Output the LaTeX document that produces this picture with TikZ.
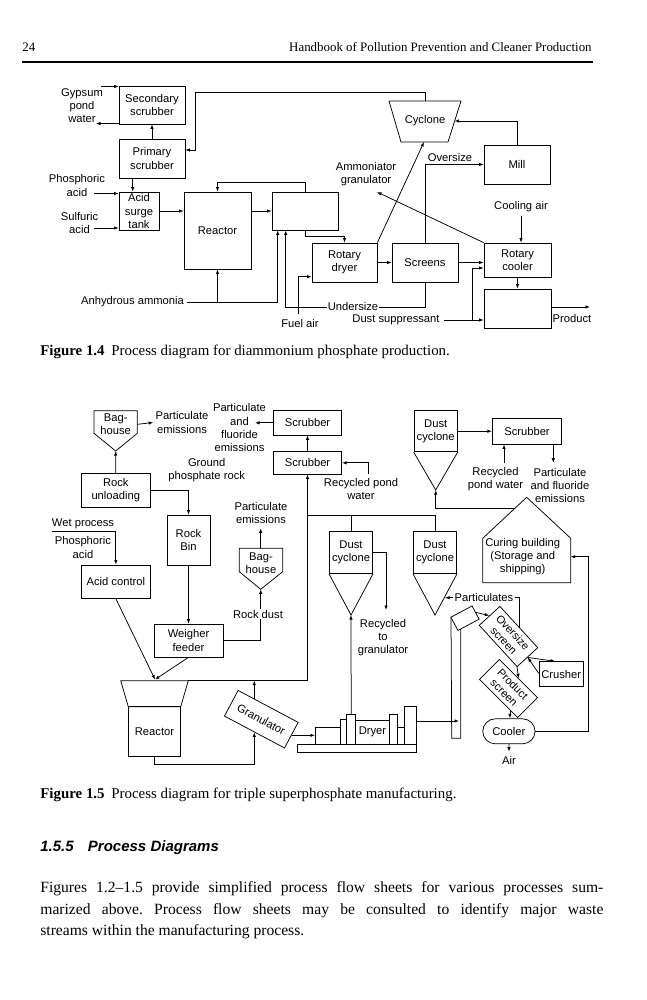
\documentclass[tikz,border=0pt]{standalone}
\usepackage{fontspec}
\setmainfont{Liberation Serif}
\newfontfamily\dg{Liberation Sans}
\newcommand\dgf{\dg\fontsize{11.2}{13.3}\selectfont}
\newcommand\dgr{\dg\fontsize{11}{12.2}\selectfont}
\usetikzlibrary{arrows.meta,calc}
\frenchspacing
\begin{document}
\begin{tikzpicture}[x=1pt,y=-1pt,line width=0.75pt,
  box/.style={draw,inner sep=0pt,align=center,font=\dgf},
  lbl/.style={inner sep=0pt,align=center,font=\dgf},
  arr/.style={-{Latex[length=4.5pt,width=3.4pt]}},
  txt/.style={inner sep=0pt}]
\useasboundingbox (0,0) rectangle (646,1000);
% ---------------- header
\node[txt,anchor=base west,font=\fontsize{12.9}{15}\selectfont] (pg) at (22,52) {24};
\node[txt,anchor=base east,font=\fontsize{12.9}{15}\selectfont] (hd) at (592,52) {Handbook of Pollution Prevention and Cleaner Production};
\draw[line width=1.2pt] (pg.west |- 0,62) -- (593,62);
% ================= FIGURE 1.4
\node[box,minimum width=66pt,minimum height=38pt] (sec) at (152,105) {Secondary\\scrubber};
\node[box,minimum width=66pt,minimum height=39pt] (pri) at (152,158.5) {Primary\\scrubber};
\node[box,minimum width=40pt,minimum height=38pt] (ast) at (139,211) {Acid\\surge\\tank};
\node[box,minimum width=67pt,minimum height=77pt] (rea) at (217.5,230.5) {Reactor};
\node[box,minimum width=66pt,minimum height=38pt] (agr) at (305,211) {};
\node[box,minimum width=65pt,minimum height=39pt] (rdr) at (344.5,262.5) {Rotary\\dryer};
\node[box,minimum width=66pt,minimum height=39pt] (scr) at (425,262.5) {Screens};
\node[box,minimum width=67pt,minimum height=34pt] (rco) at (517.5,260) {Rotary\\cooler};
\node[box,minimum width=67pt,minimum height=39pt] (pbx) at (517.5,308.5) {};
\node[box,minimum width=66pt,minimum height=39pt] (mil) at (517,164.5) {Mill};
\draw (389,101) -- (461,101) -- (448,142) -- (401,142) -- cycle;
\node[lbl] (cyc) at (425,121) {Cyclone};
\coordinate (cyctop) at (425,101);
\coordinate (cycbot) at (424,142);
\coordinate (cycr) at (454.5,121);
% labels
\node[lbl] (gyp) at (82,105.5) {Gypsum\\pond\\water};
\node[lbl] (pho) at (77,185.5) {Phosphoric\\acid};
\node[lbl] (sul) at (79.5,222.7) {Sulfuric\\acid};
\node[lbl] (amg) at (366,174) {Ammoniator\\granulator};
\node[lbl] (ovs) at (450,157) {Oversize};
\node[lbl] (cla) at (521,207) {Cooling air};
\node[lbl] (anh) at (132.5,302) {Anhydrous ammonia};
\node[lbl] (fua) at (300,323) {Fuel air};
\node[lbl] (dsu) at (396,320) {Dust suppressant};
\node[lbl] (prd) at (572,318) {Product};
% connectors
\coordinate (gyin) at (101,86.5);
\draw[arr] (gyin) -- (gyin -| sec.west);
\coordinate (gyout) at (96,123.5);
\draw[arr] (gyout -| sec.west) -- (gyout);
\draw[arr] (pri) -- (sec);
\draw[arr] (cyctop) -- (425,92) -- (195,92) -- (195,150) -- (pri.east |- 0,150);
\draw[arr] (pri.south -| 132.7,0) -- (ast.north -| 132.7,0);
\coordinate (phin) at (94,193.5);
\draw[arr] (phin) -- (phin -| ast.west);
\coordinate (suin) at (94,228);
\draw[arr] (suin) -- (suin -| ast.west);
\draw[arr] (ast.east) -- (ast.east -| rea.west);
\draw[arr] (agr.west -| rea.east) -- (agr.west);
\draw[arr] (agr.north) -- ++(0,-9) -| (rea.north);
\draw[arr] (agr.south) -- ++(0,6.5) -| (rdr.north);
\draw[arr] (rdr.east) -- (scr.west);
\draw[arr] (scr.east) -- (scr.east -| rco.west);
\draw[arr] (rco.south) -- (pbx.north);
\coordinate (pout) at (590,307);
\draw[arr] (pout -| pbx.east) -- (pout);
\draw[arr] ([xshift=4pt]dsu.east) -- (dsu.east -| pbx.west);
\coordinate (dsj) at (472,320);
\draw[arr] (dsj) -- (472,268) -- (rco.west |- 0,268);
\draw[arr] ([yshift=-3pt]cla.south) -- (cla.south |- rco.north);
\draw[arr] (mil.north) |- (cycr);
\draw[arr] (scr.north) |- (mil.west);
\draw[arr] (rdr.north east) -- (cycbot);
\coordinate (amgp) at (377,192);
\draw[arr] (rco.north west) -- (amgp);
\draw[arr] (scr.south) -- ++(0,24.5) -| (agr.south -| 285.7,0);
\node[lbl,fill=white,inner sep=1pt] (und) at (353,306.5) {Undersize};
\draw[arr] ([xshift=3pt]anh.east) -- (277.7,302) -- (agr.south -| 277.7,0);
\draw[arr] (217.5,302) -- (rea.south);
\draw[arr] (298.3,314) -- (298.3,276.7) -- (rdr.west |- 0,276.7);
% caption
\node[txt,anchor=west,font=\fontsize{14.9}{17}\selectfont] (cap1) at (40,352) {\textbf{Figure 1.4}\hspace{0.45em}Process diagram for diammonium phosphate production.};
% ================= FIGURE 1.5
% baghouse 1
\draw (94,410.7) -- (137.3,410.7) -- (137.3,433.3) -- (115.7,451) -- (94,433.3) -- cycle;
\node[lbl] (bh1) at (115.7,424.3) {Bag-\\house};
\coordinate (bh1tip) at (115.7,451);
\node[lbl] (pe1) at (182,422.5) {Particulate\\emissions};
\draw[arr] (bh1 -| 137.3,0) -- ([xshift=-2pt]pe1.west);
\node[box,minimum width=68.3pt,minimum height=34pt] (ru) at (115.8,490.3) {Rock\\unloading};
\draw[arr] (ru.north) -- (bh1tip);
\node[lbl] (gpr) at (206.7,470) {Ground\\phosphate rock};
\node[box,minimum width=43pt,minimum height=50pt] (rb) at (188.5,540) {Rock\\Bin};
\draw[arr] (ru.east) -| (rb.north);
\node[box,minimum width=69pt,minimum height=33pt] (wf) at (188.5,640.5) {Weigher\\feeder};
\draw[arr] (rb) -- (wf);
% baghouse 2
\draw (239.3,548.3) -- (282.7,548.3) -- (282.7,571.7) -- (260.7,589.3) -- (239.3,571.7) -- cycle;
\node[lbl] (bh2) at (261,563.5) {Bag-\\house};
\coordinate (bh2tip) at (260.7,589.3);
\coordinate (bh2top) at (260.7,548.3);
\draw[arr] (wf.east) -| (bh2tip);
\node[lbl,fill=white,inner sep=1pt] (rdu) at (258,614) {Rock dust};
\node[lbl] (pe2) at (261,513.3) {Particulate\\emissions};
\draw[arr] (bh2top) -- (260.7,528.3);
% acid control
\node[box,minimum width=68.3pt,minimum height=33.3pt] (ac) at (115.85,581.65) {Acid control};
\node[lbl] (wet) at (83,524) {Wet process};
\node[lbl] (wpa) at (83,547.5) {Phosphoric\\acid};
\coordinate (wetl) at (51.7,531.7);
\draw[arr] (wetl) -| (ac.north);
% reactor
\draw (120.7,680.7) -- (188.3,680.7) -- (180.7,706.7) -- (128.3,706.7) -- cycle;
\node[box,minimum width=52.4pt,minimum height=50pt] (br) at (154.5,731.7) {Reactor};
\coordinate (hop) at (155,679.5);
\coordinate (hopr) at (188.3,680.7);
\draw[arr] (ac.south) -- (hop);
\draw[arr] (wf.south) -- (hop);
% scrubbers
\node[box,minimum width=68.4pt,minimum height=24.3pt] (s1) at (307.5,422.85) {Scrubber};
\node[box,minimum width=68.4pt,minimum height=22.3pt] (s2) at (307.5,462.85) {Scrubber};
\draw[arr] (s2) -- (s1);
\node[lbl] (pfe1) at (239.5,427.9) {Particulate\\and\\fluoride\\emissions};
\coordinate (pfe1a) at (255,422.85);
\draw[arr] (s1.west) -- (pfe1a);
\node[lbl] (rpw1) at (361,489.3) {Recycled pond\\water};
\draw[arr] (368,474) |- (s2.east);
\draw[arr] (hopr) -- (307.5,680.7) -- (s2.south);
% dust cyclones
\node[box,minimum width=43.4pt,minimum height=41.6pt] (dc1) at (351,552.5) {Dust\\cyclone};
\draw (dc1.south west) -- (351,615) -- (dc1.south east);
\coordinate (dc1tip) at (351,615);
\node[box,minimum width=43.4pt,minimum height=41.6pt] (dc2) at (435,552.5) {Dust\\cyclone};
\draw (dc2.south west) -- (435,615) -- (dc2.south east);
\node[box,minimum width=43.3pt,minimum height=41pt] (dc0) at (435.7,431.2) {Dust\\cyclone};
\draw (dc0.south west) -- (435.7,490) -- (dc0.south east);
\coordinate (dc0tip) at (435.7,490);
\draw (307.5,515) -- (435,515);
\draw (dc1.north) -- (dc1.north |- 0,515);
\draw (dc2.north) -- (dc2.north |- 0,515);
\node[box,minimum width=69.4pt,minimum height=25.7pt] (s3) at (527,431.2) {Scrubber};
\draw[arr] (dc0.east) -- (s3.west);
\node[lbl] (rpw2) at (495.5,479) {Recycled\\pond water};
\draw[arr] (504,463) -- (s3.south -| 504,0);
\node[lbl] (pfe2) at (560,485.3) {Particulate\\and fluoride\\emissions};
\draw[arr] (s3.south -| 553.3,0) -- (553.3,462.7);
% curing building
\draw (482.7,582.7) -- (482.7,538.3) -- (526.7,497.3) -- (570.7,538.3) -- (570.7,582.7) -- cycle;
\node[lbl] (cur) at (522.7,556.7) {Curing building\\(Storage and\\shipping)};
\coordinate (roofp) at (514.9,508.3);
\coordinate (curr) at (570.7,556.7);
\draw[arr] (roofp) -| (dc0tip);
\node[lbl] (rtg) at (383,637.7) {Recycled\\to\\granulator};
\draw[arr] (dc1.east) -| (386,610);
% dryer
\draw (297.3,744) rectangle (416.7,752.7);
\draw (315,727.3) rectangle (340,744);
\draw (340,719.3) rectangle (346.7,744);
\draw (346.7,714) rectangle (355.7,744);
\node[box,minimum width=33.6pt,minimum height=24pt] (dry) at (372.5,732) {Dryer};
\draw (389.3,714) rectangle (397.3,744);
\draw (397.3,727.3) rectangle (404,744);
\draw (404,706.7) rectangle (416.7,744);
\coordinate (drystack) at (351.2,714);
\coordinate (dryout) at (416.7,721);
\draw[arr] (drystack) -- (dc1tip);
% granulator
\node[box,rotate=-28,minimum width=68pt,minimum height=29pt] (bgr) at (261.3,719.2) {Granulator};
\draw[arr] (bgr.east) -- (bgr.east -| 315,0);
\draw[arr] (br.south) -- ++(0,7.3) -| (bgr.south);
\coordinate (bgrtop) at (254.3,699);
\draw[arr] (bgrtop) -- (254.3,680.7);
% elevator
\node[draw,rotate=28,minimum width=24pt,minimum height=15pt,inner sep=0pt] (elh) at (465,618.2) {};
\draw (451,617.3) -- (451.7,738.3) -- (460.7,738.3) -- (460.7,629);
\draw[arr] (dryout) -- (459,721);
% screens
\node[box,font=\dgr,rotate=-47.5,minimum width=56pt,minimum height=28pt] (oss) at (508.5,636.5) {Oversize\\screen};
\draw[arr] (elh.east) -- (oss.west);
\node[lbl] (pts) at (484,597.7) {Particulates};
\draw (oss.north) |- ([xshift=1pt]pts.east);
\draw[arr] ([xshift=-1pt]pts.west) -- (445,597.7);
\node[box,minimum width=44.3pt,minimum height=25pt] (cru) at (561.2,674.2) {Crusher};
\draw[arr] (oss.east) -- ([xshift=-6pt]cru.north);
\draw[arr] (cru.west |- 0,673.3) -- (oss.east);
\node[box,font=\dgr,rotate=-45,minimum width=54pt,minimum height=28pt] (pss) at (508.5,688.5) {Product\\screen};
\draw[arr] (oss.south east) -- (pss.north);
\node[draw,rounded corners=12.5pt,minimum width=52.3pt,minimum height=25pt,inner sep=0pt,font=\dgf] (coo) at (508.9,731.3) {Cooler};
\coordinate (pssout) at ($(pss.south)!0.6!(pss.south east)$);
\draw[arr] (pssout) -- (pssout |- coo.north);
\node[lbl] (air) at (509,760.7) {Air};
\draw[arr] (coo.south) -- (509,751.7);
\draw[arr] (coo.east) -- (588.3,731.3) |- (curr);
% caption 2
\node[txt,anchor=west,font=\fontsize{14.9}{17}\selectfont] (cap2) at (40,795) {\textbf{Figure 1.5}\hspace{0.45em}Process diagram for triple superphosphate manufacturing.};
% heading
\node[txt,anchor=west,font=\dg\bfseries\itshape\fontsize{15}{18}\selectfont] (sec155) at (40,848) {1.5.5\hspace{0.95em}Process Diagrams};
% paragraph
\node[txt,anchor=base west,font=\fontsize{15.6}{18}\selectfont] (p1) at (40,892.5) {\makebox[563pt][s]{Figures 1.2--1.5 provide simplified process flow sheets for various processes sum-}};
\node[txt,anchor=base west,font=\fontsize{15.6}{18}\selectfont] (p2) at (40,914) {\makebox[563pt][s]{marized above. Process flow sheets may be consulted to identify major waste}};
\node[txt,anchor=base west,font=\fontsize{15.6}{18}\selectfont] (p3) at (40,935.5) {streams within the manufacturing process.};
\end{tikzpicture}
\end{document}
